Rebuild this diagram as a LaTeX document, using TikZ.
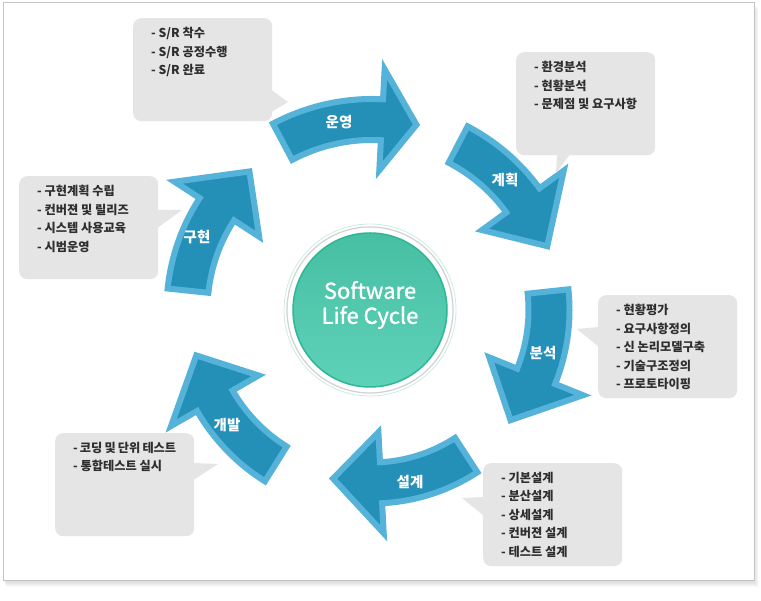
\documentclass[tikz,border=0pt]{standalone}
\usepackage{fontspec}
\setmainfont{Noto Sans CJK KR}
\newfontfamily\centrefont[FakeBold=1.2]{Noto Sans CJK KR}
\usetikzlibrary{positioning}
\definecolor{arrowfill}{HTML}{2490B8}
\definecolor{arrowedge}{HTML}{55B2D8}
\definecolor{boxgray}{HTML}{E5E5E5}
\definecolor{boxtext}{HTML}{2E2E2E}
\definecolor{frameline}{HTML}{C4C4C4}
\definecolor{tealtop}{HTML}{47BFA3}
\definecolor{tealmid}{HTML}{72DEC9}
\definecolor{tealbot}{HTML}{5ED2B9}
\definecolor{tealedge}{HTML}{2DB792}
\begin{document}
\begin{tikzpicture}[x=1pt, y=1pt,
    cyclearrow/.style={fill=arrowfill, draw=arrowedge, line width=6pt, line join=miter},
    steplabel/.style={text=white, font=\fontsize{14.5}{16}\selectfont\bfseries, inner sep=0pt},
    infobox/.style={fill=boxgray, rounded corners=8pt, anchor=north west, inner xsep=18pt,
        inner ysep=9pt, text=boxtext, font=\fontsize{12.2}{18.5}\selectfont\bfseries}]
\useasboundingbox (0,0) rectangle (761,601);

% Drawing frame with shadow
\foreach \s in {1,...,6}
    \fill[black, opacity=0.025] (3+0.5*\s,20-\s) rectangle (754+0.7*\s,598-\s);
\draw[frameline, fill=white, line width=1pt] (3,20) rectangle (754,598);

% Drawing arrows round the centre
\begin{scope}[shift={(372,291)}]
    % Drawing arrow 운영
    \draw[cyclearrow] (118:211) arc[start angle=118, end angle=87, radius=211]
        -- (87:241) -- (76.5:190.5) -- (87:140) -- (87:170)
        arc[start angle=87, end angle=118, radius=170] -- cycle;
    % Drawing arrow 계획
    \draw[cyclearrow] (62.5:207) arc[start angle=62.5, end angle=36, radius=207]
        -- (36:237) -- (20:186.5) -- (36:136) -- (36:166)
        arc[start angle=36, end angle=62.5, radius=166] -- cycle;
    % Drawing arrow 분석
    \draw[cyclearrow] (6:197.5) arc[start angle=6, end angle=-22, radius=197.5]
        -- (-22:227.5) -- (-38.5:177) -- (-22:126.5) -- (-22:156.5)
        arc[start angle=-22, end angle=6, radius=156.5] -- cycle;
    % Drawing arrow 설계
    \draw[cyclearrow] (-57:193.5) arc[start angle=-57, end angle=-87, radius=193.5]
        -- (-87:223.5) -- (-103:173) -- (-87:122.5) -- (-87:152.5)
        arc[start angle=-87, end angle=-57, radius=152.5] -- cycle;
    % Drawing arrow 개발
    \draw[cyclearrow] (-122:202) arc[start angle=-122, end angle=-150, radius=202]
        -- (-150:232) -- (-165.5:181.5) -- (-150:131) -- (-150:161)
        arc[start angle=-150, end angle=-122, radius=161] -- cycle;
    % Drawing arrow 구현
    \draw[cyclearrow] (174:205.5) arc[start angle=174, end angle=147, radius=205.5]
        -- (147:235.5) -- (131.5:185) -- (147:134.5) -- (147:164.5)
        arc[start angle=147, end angle=174, radius=164.5] -- cycle;
\end{scope}

% Marking arrow labels
\node[steplabel] (oplabel) at (339,479) {운영};
\node[steplabel] (planlabel) at (505,421) {계획};
\node[steplabel] (anallabel) at (543,248) {분석};
\node[steplabel] (deslabel) at (410,119) {설계};
\node[steplabel] (devlabel) at (227,176) {개발};
\node[steplabel] (impllabel) at (197,364) {구현};

% Drawing centre circle
\draw[draw=tealedge!25, fill=white, line width=0.8pt] (370,291) circle (86);
\draw[draw=black!18, fill=white, line width=1.2pt] (370,291) circle (83);
\shade[top color=tealtop, middle color=tealmid, bottom color=tealbot] (370,291) circle (77);
\draw[tealedge, line width=1.5pt] (370,291) circle (77);
\node[text=white, align=center, font=\centrefont\fontsize{22}{25}\selectfont] (centre) at (370,296)
    {Software\\Life Cycle};

% Drawing callout boxes
\node[infobox] (opbox) at (133,583)
    {\parbox[t][85pt][t]{103pt}{- S/R 착수\\- S/R 공정수행\\- S/R 완료}};
\coordinate (optip) at (288,499);
\fill[boxgray] ([xshift=-1pt, yshift=-72pt]opbox.north east) -- (optip)
    -- ([xshift=-1pt, yshift=-94pt]opbox.north east) -- cycle;

\node[infobox] (planbox) at (516,549)
    {\parbox[t][85pt][t]{103pt}{- 환경분석\\- 현황분석\\- 문제점 및 요구사항}};
\coordinate (plantip) at (556,428);
\fill[boxgray] ([xshift=41pt, yshift=1pt]planbox.south west) -- (plantip)
    -- ([xshift=54pt, yshift=1pt]planbox.south west) -- cycle;

\node[infobox] (analbox) at (598,306)
    {\parbox[t][85pt][t]{103pt}{- 현황평가\\- 요구사항정의\\- 신 논리모델구축\\- 기술구조정의\\- 프로토타이핑}};
\coordinate (analtip) at (577,272);
\fill[boxgray] ([xshift=1pt, yshift=-32pt]analbox.north west) -- (analtip)
    -- ([xshift=1pt, yshift=-52pt]analbox.north west) -- cycle;

\node[infobox] (desbox) at (483,138)
    {\parbox[t][85pt][t]{103pt}{- 기본설계\\- 분산설계\\- 상세설계\\- 컨버젼 설계\\- 테스트 설계}};
\coordinate (destip) at (462,103);
\fill[boxgray] ([xshift=1pt, yshift=-34pt]desbox.north west) -- (destip)
    -- ([xshift=1pt, yshift=-53pt]desbox.north west) -- cycle;

\node[infobox] (devbox) at (55,168)
    {\parbox[t][85pt][t]{103pt}{- 코딩 및 단위 테스트\\- 통합테스트 실시}};
\coordinate (devtip) at (218,137);
\fill[boxgray] ([xshift=-1pt, yshift=-30pt]devbox.north east) -- (devtip)
    -- ([xshift=-1pt, yshift=-47pt]devbox.north east) -- cycle;

\node[infobox] (implbox) at (19,425)
    {\parbox[t][85pt][t]{103pt}{- 구현계획 수립\\- 컨버젼 및 릴리즈\\- 시스템 사용교육\\- 시범운영}};
\coordinate (impltip) at (182,391);
\fill[boxgray] ([xshift=-1pt, yshift=-34pt]implbox.north east) -- (impltip)
    -- ([xshift=-1pt, yshift=-52pt]implbox.north east) -- cycle;
\end{tikzpicture}
\end{document}
